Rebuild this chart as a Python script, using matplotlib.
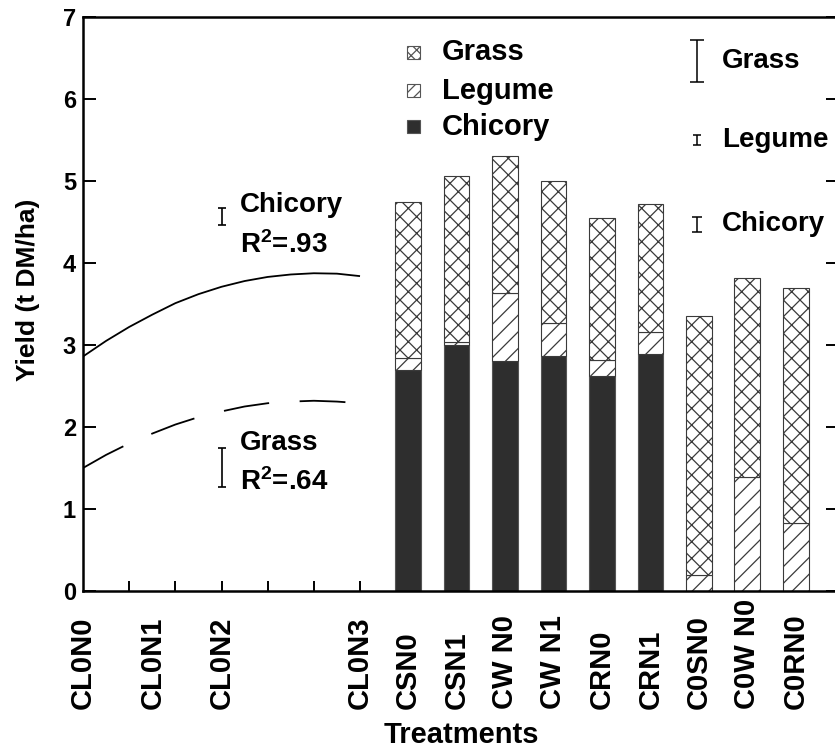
import matplotlib
matplotlib.use("Agg")
import matplotlib.pyplot as plt
import matplotlib.transforms as mtransforms
from matplotlib.patches import Rectangle
import numpy as np

plt.rcParams['font.family'] = ['Liberation Sans', 'DejaVu Sans']
plt.rcParams['font.weight'] = 'bold'
plt.rcParams['mathtext.fontset'] = 'custom'
plt.rcParams['mathtext.rm'] = 'Liberation Sans:bold'
plt.rcParams['mathtext.it'] = 'Liberation Sans:bold'
plt.rcParams['mathtext.bf'] = 'Liberation Sans:bold'
plt.rcParams['hatch.linewidth'] = 0.9
plt.rcParams['lines.scale_dashes'] = False

# ---- Nitrogen response curves (CL0 treatments) ----
n_rate = [0, 25, 50, 75, 100, 125, 150, 175, 200, 225, 250, 275, 300]   # kg N/ha
chicory_fit = [2.86, 3.05, 3.22, 3.37, 3.51, 3.62, 3.71, 3.78, 3.83, 3.86, 3.875, 3.87, 3.84]
grass_fit = [1.50, 1.66, 1.80, 1.92, 2.03, 2.12, 2.19, 2.25, 2.29, 2.31, 2.32, 2.31, 2.29]
cl_labels = ['CL0N0', 'CL0N1', 'CL0N2', 'CL0N3']
cl_rates = [0, 75, 150, 300]
fit_r2 = {'Chicory': '.93', 'Grass': '.64'}
fit_lsd = {'Chicory': 0.21, 'Grass': 0.47}

# ---- Mixture treatments (stacked components) ----
mix_labels = ['CSN0', 'CSN1', 'CW N0', 'CW N1', 'CRN0', 'CRN1', 'C0SN0', 'C0W N0', 'C0RN0']
chicory = [2.70, 3.00, 2.81, 2.87, 2.62, 2.89, 0.00, 0.00, 0.00]
legume = [0.14, 0.04, 0.82, 0.40, 0.20, 0.27, 0.20, 1.39, 0.83]
grass = [1.90, 2.02, 1.67, 1.73, 1.73, 1.56, 3.15, 2.43, 2.87]
component_lsd = {'Grass': 0.51, 'Legume': 0.12, 'Chicory': 0.18}

W, H = 835, 750
fig = plt.figure(figsize=(W / 100, H / 100), dpi=100)
ax = fig.add_axes([83 / W, 1 - 591 / H, (838 - 83) / W, (591 - 17) / H])

n_per_unit = 50.0
x_fit = np.array(n_rate) / n_per_unit
x_mix = 7.04 + 1.05 * np.arange(len(mix_labels))
bar_w = 0.56

# curves
ax.plot(x_fit, chicory_fit, color='black', lw=1.3, solid_capstyle='butt')
gl, = ax.plot(x_fit, grass_fit, color='black', lw=1.3)
gl.set_dashes([33, 22])
gl.set_dash_capstyle('butt')

# stacked bars
chic = np.array(chicory)
leg = np.array(legume)
gra = np.array(grass)
ec = '#3a3a3a'
ax.bar(x_mix, chic, bar_w, color='#2e2e2e', edgecolor='#555555', lw=0.8)
ax.bar(x_mix, leg, bar_w, bottom=chic, color='white', edgecolor=ec, hatch='//', lw=0.8)
ax.bar(x_mix, gra, bar_w, bottom=chic + leg, color='white', edgecolor=ec, hatch='xx', lw=0.8)

# regression annotation: LSD bars and labels
x_note = 150 / n_per_unit
y_note = {'Chicory': 4.565, 'Grass': 1.505}
txt_y = {'Chicory': (4.71, 4.22), 'Grass': (1.80, 1.33)}
for name in ['Chicory', 'Grass']:
    ax.errorbar([x_note], [y_note[name]], yerr=[fit_lsd[name] / 2], fmt='none',
                ecolor='black', elinewidth=1.2, capsize=3.2, capthick=1.2)
    ax.text(3.40, txt_y[name][0], name, fontsize=20, fontweight='bold', va='center', ha='left')
    ax.text(3.40, txt_y[name][1], 'R$^{2}$=' + fit_r2[name], fontsize=20,
            fontweight='bold', va='center', ha='left')

# component LSD bars on the right
x_lsd = 13.30
lsd_y = {'Grass': 6.465, 'Legume': 5.50, 'Chicory': 4.47}
lsd_cap = {'Grass': 4.7, 'Legume': 2.9, 'Chicory': 3.6}
for name in ['Grass', 'Legume', 'Chicory']:
    ax.errorbar([x_lsd], [lsd_y[name]], yerr=[component_lsd[name] / 2], fmt='none',
                ecolor='black', elinewidth=1.1, capsize=lsd_cap[name], capthick=1.1)
    ax.text(13.84, lsd_y[name], name, fontsize=20, fontweight='bold', va='center', ha='left')

# legend drawn as swatches with labels
leg_rows = [('Grass', 6.57, dict(facecolor='white', hatch='xxx', edgecolor='#555555')),
            ('Legume', 6.10, dict(facecolor='white', hatch='///', edgecolor='#555555')),
            ('Chicory', 5.66, dict(facecolor='#2e2e2e', edgecolor='#555555'))]
sw_w, sw_h = 13 / 46.17, 13 / 82.0
for name, yy, style in leg_rows:
    ax.add_patch(Rectangle((7.16 - sw_w / 2, yy - sw_h / 2), sw_w, sw_h, lw=0.8, **style))
    ax.text(7.78, yy, name, fontsize=21, fontweight='bold', va='center', ha='left')

# axes styling
ax.set_xlim(0, (838 - 83) / 46.17)
ax.set_ylim(0, 7)
ax.set_yticks(range(8))
ax.set_yticklabels([str(v) for v in range(8)], fontsize=17, fontweight='bold')
ax.tick_params(axis='y', direction='in', length=9, width=1.4, pad=5, right=True)
ax.set_xticks(np.arange(1, 7))
ax.set_xticklabels([])
ax.tick_params(axis='x', direction='in', length=7.5, width=1.4)
for side in ['left', 'bottom', 'top', 'right']:
    ax.spines[side].set_linewidth(1.8)

# treatment labels, bottom aligned below the axis
trans = mtransforms.blended_transform_factory(ax.transData, fig.transFigure)
label_base = 1 - 709 / H
for lab, r in zip(cl_labels, cl_rates):
    ax.text(r / n_per_unit, label_base, lab, transform=trans, rotation=90,
            ha='center', va='bottom', fontsize=21, fontweight='bold', clip_on=False)
for lab, xx in zip(mix_labels, x_mix):
    ax.text(xx, label_base, lab, transform=trans, rotation=90,
            ha='center', va='bottom', fontsize=21, fontweight='bold', clip_on=False)

fig.text(461 / W, 1 - 735 / H, 'Treatments', ha='center', va='center',
         fontsize=21, fontweight='bold')
fig.text(28 / W, 1 - 290 / H, 'Yield (t DM/ha)', ha='center', va='center',
         rotation=90, fontsize=19, fontweight='bold')

fig.savefig('out.png', dpi=100)
